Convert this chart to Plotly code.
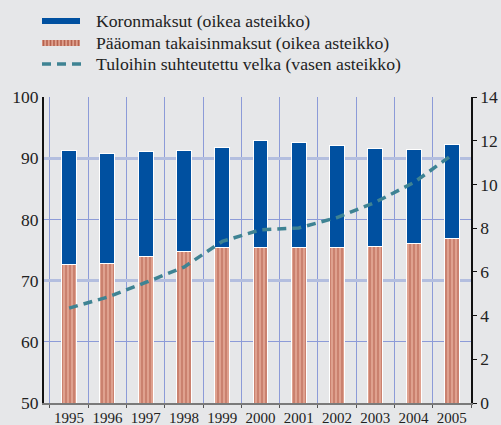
import plotly.graph_objects as go

years = ["1995", "1996", "1997", "1998", "1999", "2000", "2001", "2002", "2003", "2004", "2005"]
paaoman = [6.35, 6.39, 6.72, 6.93, 7.11, 7.12, 7.12, 7.12, 7.18, 7.32, 7.53]
koron = [5.19, 5.03, 4.78, 4.61, 4.59, 4.88, 4.82, 4.64, 4.47, 4.28, 4.30]
velka = [65.5, 67.3, 69.7, 72.2, 76.4, 78.3, 78.6, 80.3, 82.8, 86.0, 90.5]

legend_labels = ["Koronmaksut (oikea asteikko)",
                 "Pääoman takaisinmaksut (oikea asteikko)",
                 "Tuloihin suhteutettu velka (vasen asteikko)"]

BG = "#E6E7E9"
BLUE = "#0050A0"
RED_BG = "#DFA18F"
RED_FG = "#B5624F"
TEAL = "#3E8393"
FONT = "'Liberation Serif', 'Times New Roman', 'DejaVu Serif', serif"

fig = go.Figure()
fig.add_trace(go.Bar(
    x=years, y=paaoman, name=legend_labels[1], yaxis="y", showlegend=False,
    marker=dict(color=RED_BG, line=dict(color="white", width=1),
                pattern=dict(shape="|", fgcolor=RED_FG, bgcolor=RED_BG, size=4, solidity=0.5)),
))
fig.add_trace(go.Bar(
    x=years, y=koron, name=legend_labels[0], yaxis="y", showlegend=False,
    marker=dict(color=BLUE, line=dict(color="white", width=1)),
))
fig.add_trace(go.Scatter(
    x=years, y=velka, name=legend_labels[2], yaxis="y2", mode="lines", showlegend=False,
    line=dict(color=TEAL, width=3.5, dash="9px,6px"),
))

fig.update_layout(
    width=501, height=425,
    margin=dict(l=44, r=30, t=97, b=22, autoexpand=False),
    paper_bgcolor=BG, plot_bgcolor=BG,
    barmode="stack", bargap=0.61,
    font=dict(family=FONT, color="#222222", size=16),
    xaxis=dict(type="category", tickson="boundaries", showgrid=True,
               gridcolor="#8C9BD8", gridwidth=1, tickangle=0, automargin=False,
               showline=True, linecolor="#7A7A7A", linewidth=2,
               ticks="outside", ticklen=3, tickcolor="#555555",
               tickfont=dict(size=15, family=FONT, color="#222222")),
    yaxis=dict(side="right", range=[0, 14], dtick=2, tick0=0, showgrid=False, zeroline=False,
               showline=True, linecolor="#111111", linewidth=1.5, automargin=False,
               ticks="outside", ticklen=4, tickcolor="#111111",
               tickfont=dict(size=17.5, family=FONT, color="#222222")),
    yaxis2=dict(overlaying="y", side="left", range=[50, 100], dtick=10, showgrid=False,
                zeroline=False, showline=True, linecolor="#111111", linewidth=2,
                automargin=False,
                ticks="", tickfont=dict(size=17.5, family=FONT, color="#222222")),
    yaxis3=dict(overlaying="y", range=[50, 100], tick0=70, dtick=20, showgrid=True,
                gridcolor="#B3BEDF", gridwidth=3, showticklabels=False, zeroline=False,
                ticks=""),
    yaxis4=dict(overlaying="y", range=[50, 100], tick0=60, dtick=20, showgrid=True,
                gridcolor="#8C9BD8", gridwidth=1, showticklabels=False, zeroline=False,
                ticks=""),
)

# invisible traces so the grid axes render
fig.add_trace(go.Scatter(x=[years[0]], y=[None], yaxis="y3", showlegend=False, hoverinfo="skip"))
fig.add_trace(go.Scatter(x=[years[0]], y=[None], yaxis="y4", showlegend=False, hoverinfo="skip"))

# Manual legend
def px_x(p):
    return (p - 44) / 427

def px_y(p):
    return (403 - p) / 306

shapes = []
rows = [21, 43, 64]
shapes.append(dict(type="rect", xref="paper", yref="paper",
                   x0=px_x(42), x1=px_x(80), y0=px_y(24), y1=px_y(18),
                   fillcolor=BLUE, line=dict(width=0)))
shapes.append(dict(type="rect", xref="paper", yref="paper",
                   x0=px_x(42), x1=px_x(80), y0=px_y(46), y1=px_y(40),
                   fillcolor=RED_BG, line=dict(width=0)))
sx = 43.5
while sx < 80:
    shapes.append(dict(type="line", xref="paper", yref="paper",
                       x0=px_x(sx), x1=px_x(sx), y0=px_y(46), y1=px_y(40),
                       line=dict(color=RED_FG, width=1.6)))
    sx += 3.5
shapes.append(dict(type="line", xref="paper", yref="paper",
                   x0=px_x(42), x1=px_x(82), y0=px_y(64), y1=px_y(64),
                   line=dict(color=TEAL, width=3.5, dash="9px,6px")))
fig.update_layout(shapes=shapes)

for lbl, ry in zip(legend_labels, rows):
    fig.add_annotation(text=lbl, xref="paper", yref="paper", x=px_x(94), y=px_y(ry),
                       xanchor="left", yanchor="middle", showarrow=False,
                       font=dict(size=17.7, family=FONT, color="#222222"))

fig.write_html(
    "out.html",
    config={"displayModeBar": False},
    post_script="document.body.style.margin='0';document.body.style.background='%s';" % BG,
)
